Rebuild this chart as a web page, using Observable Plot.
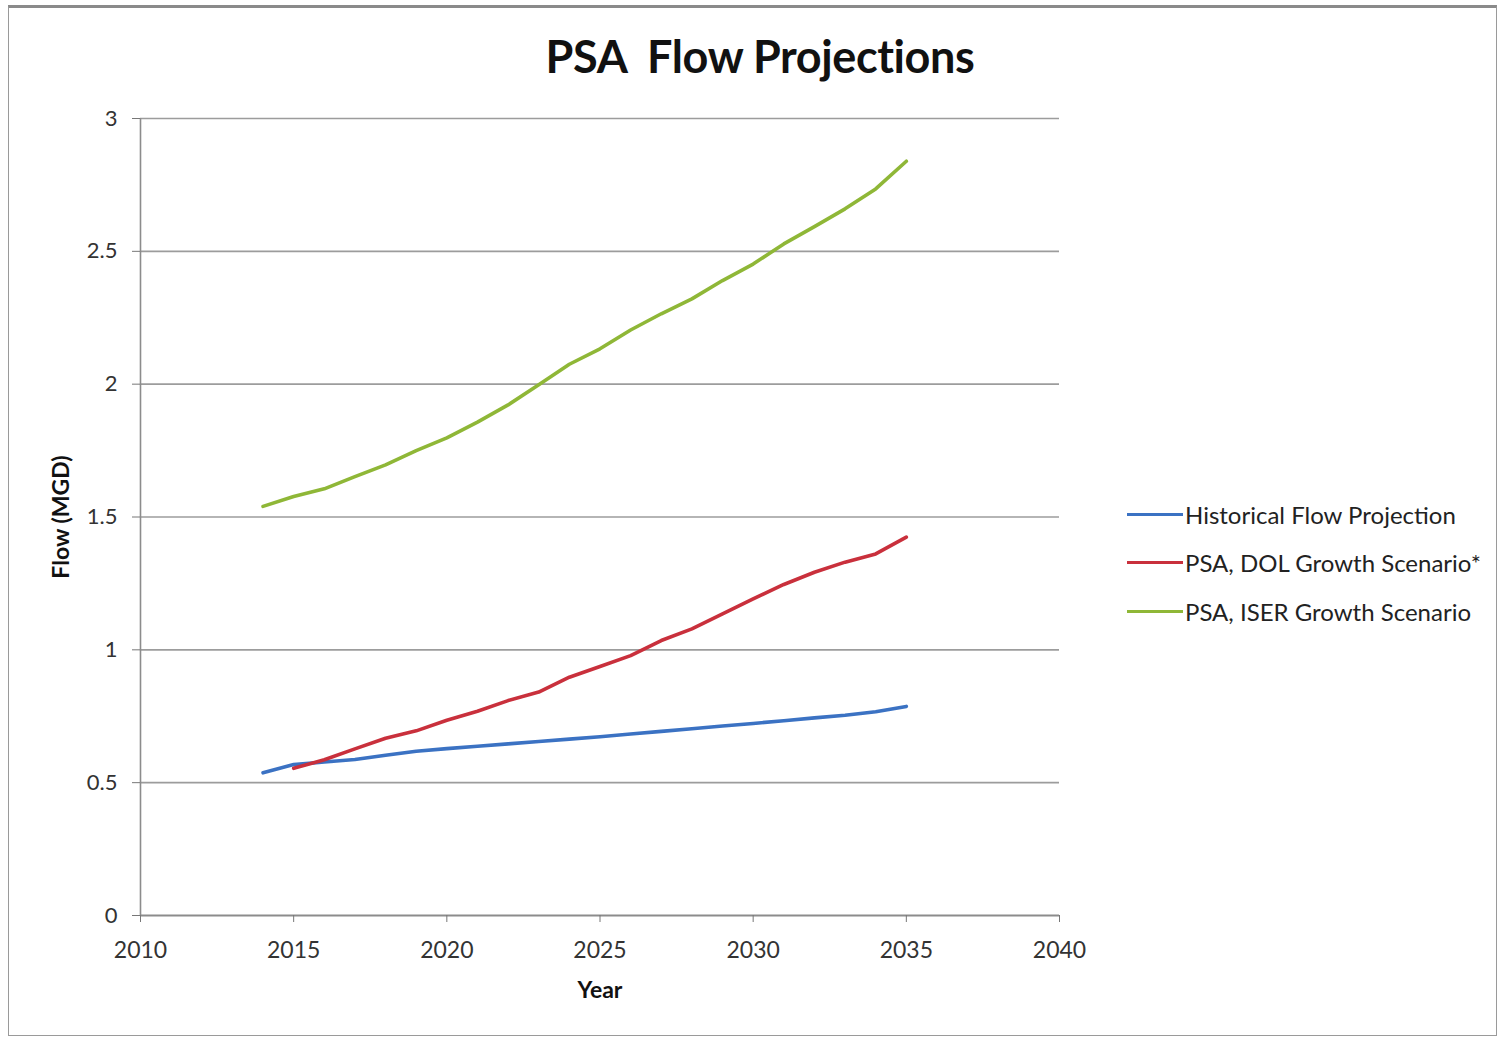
<!DOCTYPE html>
<html>
<head>
<meta charset="utf-8">
<script src="https://cdn.jsdelivr.net/npm/d3@7"></script>
<script src="https://cdn.jsdelivr.net/npm/@observablehq/plot@0.6"></script>
<style>
  html, body { margin: 0; padding: 0; background: #fff; }
  #wrap { position: relative; width: 1501px; height: 1039px; overflow: hidden; font-family: Lato, "Open Sans", sans-serif; }
  #frame { position: absolute; left: 8px; top: 5px; width: 1489px; height: 1031px; border: 1.5px solid #9a9a9a; border-top: 3px solid #8a8a8a; box-sizing: border-box; pointer-events: none; }
  #title { position: absolute; left: 0; width: 1520px; top: 29px; text-align: center; font-size: 45px; font-weight: bold; color: #111; letter-spacing: -0.4px; }
  #chart { position: absolute; left: 0; top: 0; }
  #legend { position: absolute; left: 1127px; top: 490px; }
  .item { display: flex; align-items: center; height: 48.5px; font-size: 24px; color: #222; }
  .swatch { width: 56px; height: 3px; margin-right: 2px; }
  g[aria-label="y-axis label"] text, g[aria-label="x-axis label"] text { font-weight: bold; font-size: 23px; fill: #111; }
</style>
</head>
<body>
<div id="wrap">
  <div id="chart"></div>
  <div id="title">PSA&nbsp; Flow Projections</div>
  <div id="legend"></div>
  <div id="frame"></div>
</div>
<script>
// Flow projections (million gallons per day) by year
const historicalYears = [2014, 2015, 2016, 2017, 2018, 2019, 2020, 2021, 2022, 2023, 2024, 2025, 2026, 2027, 2028, 2029, 2030, 2031, 2032, 2033, 2034, 2035];
const historicalFlow = [0.537, 0.568, 0.578, 0.587, 0.603, 0.618, 0.628, 0.637, 0.646, 0.655, 0.664, 0.673, 0.683, 0.693, 0.703, 0.713, 0.723, 0.733, 0.744, 0.754, 0.767, 0.787];

const dolYears = [2015, 2016, 2017, 2018, 2019, 2020, 2021, 2022, 2023, 2024, 2025, 2026, 2027, 2028, 2029, 2030, 2031, 2032, 2033, 2034, 2035];
const dolFlow = [0.554, 0.586, 0.627, 0.667, 0.695, 0.735, 0.769, 0.809, 0.841, 0.897, 0.937, 0.978, 1.035, 1.079, 1.135, 1.192, 1.246, 1.292, 1.330, 1.361, 1.424];

const iserYears = [2014, 2015, 2016, 2017, 2018, 2019, 2020, 2021, 2022, 2023, 2024, 2025, 2026, 2027, 2028, 2029, 2030, 2031, 2032, 2033, 2034, 2035];
const iserFlow = [1.540, 1.577, 1.606, 1.652, 1.696, 1.750, 1.798, 1.857, 1.922, 1.998, 2.075, 2.133, 2.204, 2.265, 2.321, 2.390, 2.452, 2.528, 2.593, 2.660, 2.735, 2.839];

const seriesNames = ["Historical Flow Projection", "PSA, DOL Growth Scenario*", "PSA, ISER Growth Scenario"];
const seriesColors = ["#3b72c3", "#c9303c", "#8fb737"];

const xTicks = [2010, 2015, 2020, 2025, 2030, 2035, 2040];
const yTicks = [0, 0.5, 1, 1.5, 2, 2.5, 3];
const gridValues = [0.5, 1, 1.5, 2, 2.5, 3];

const rows = (years, flows, name) => years.map((year, i) => ({year, flow: flows[i], series: name}));
const data = [
  ...rows(historicalYears, historicalFlow, seriesNames[0]),
  ...rows(dolYears, dolFlow, seriesNames[1]),
  ...rows(iserYears, iserFlow, seriesNames[2])
];

const chart = Plot.plot({
  width: 1501,
  height: 1039,
  marginLeft: 140,
  marginRight: 442,
  marginTop: 118,
  marginBottom: 124,
  style: {fontFamily: "Lato, 'Open Sans', sans-serif", fontSize: "22px", color: "#333", background: "transparent"},
  x: {domain: [2010, 2040]},
  y: {domain: [0, 3]},
  color: {domain: seriesNames, range: seriesColors},
  marks: [
    Plot.ruleY(gridValues, {stroke: "#9c9c9c", strokeWidth: 1.6}),
    Plot.ruleX([2010], {y1: 0, y2: 3, stroke: "#8c8c8c", strokeWidth: 1.6}),
    Plot.ruleY([0], {stroke: "#8c8c8c", strokeWidth: 2.2}),
    Plot.axisX({
      ticks: xTicks, tickFormat: d => String(d), tickSize: 7, tickPadding: 19, fontSize: 23,
      stroke: "#777", label: "Year", labelAnchor: "center", labelOffset: 82, labelArrow: "none"
    }),
    Plot.axisY({
      ticks: yTicks, tickFormat: d => String(d), tickSize: 8, tickPadding: 15,
      stroke: "#777", label: "Flow (MGD)", labelAnchor: "center", labelOffset: 88, labelArrow: "none"
    }),
    Plot.line(data, {x: "year", y: "flow", z: "series", stroke: "series", strokeWidth: 3.6, strokeLinejoin: "round", strokeLinecap: "round"})
  ]
});
document.getElementById("chart").appendChild(chart);

// Legend
const legend = d3.select("#legend");
seriesNames.forEach((name, i) => {
  const item = legend.append("div").attr("class", "item");
  item.append("div").attr("class", "swatch").style("background", seriesColors[i]);
  item.append("span").text(name);
});
</script>
</body>
</html>
